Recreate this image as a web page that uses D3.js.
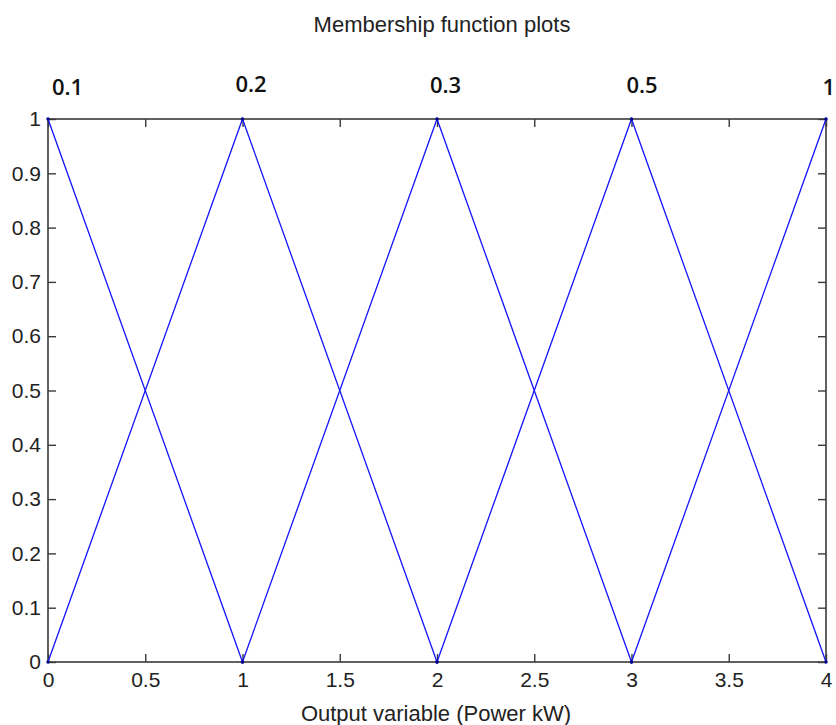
<!DOCTYPE html>
<html><head><meta charset="utf-8">
<script src="https://cdn.jsdelivr.net/npm/d3@7"></script>
<style>body{margin:0;background:#fff}svg{display:block}</style>
</head><body>
<script>
const title = "Membership function plots";
const xLabel = "Output variable (Power kW)";
const mfNames = ["0.1","0.2","0.3","0.5","1"];
const mfParams = [[-1,0,1],[0,1,2],[1,2,3],[2,3,4],[3,4,5]];
const xTicks = [0,0.5,1,1.5,2,2.5,3,3.5,4];
const yTicks = [0,0.1,0.2,0.3,0.4,0.5,0.6,0.7,0.8,0.9,1];
const xDomain = [0,4];
const yDomain = [0,1];

const W=836,H=725;
const m={l:48,t:119,r:10,b:63};
const svg=d3.select("body").append("svg").attr("width",W).attr("height",H);
const x=d3.scaleLinear().domain(xDomain).range([m.l,W-m.r]);
const y=d3.scaleLinear().domain(yDomain).range([H-m.b,m.t]);
const fmt=d=>String(d);
const font="'Liberation Sans', Arial, sans-serif";
const axisCol="#3a3a3a";

svg.append("rect").attr("x",x(0)).attr("y",y(1)).attr("width",x(4)-x(0)).attr("height",y(0)-y(1))
 .attr("fill","none").attr("stroke",axisCol).attr("stroke-width",1.6);

function styleAxis(g){
  g.select(".domain").remove();
  g.selectAll(".tick line").attr("stroke",axisCol).attr("stroke-width",1.4);
  g.selectAll(".tick text").attr("fill","#222").style("font-family",font).style("font-size","21px");
}
const tl=8;
svg.append("g").attr("transform",`translate(0,${y(0)})`)
 .call(d3.axisBottom(x).tickValues(xTicks).tickFormat(fmt).tickSizeInner(-tl).tickSizeOuter(0).tickPadding(10))
 .call(styleAxis);
svg.append("g").attr("transform",`translate(0,${y(1)})`)
 .call(d3.axisTop(x).tickValues(xTicks).tickFormat("").tickSizeInner(-tl).tickSizeOuter(0))
 .call(styleAxis);
svg.append("g").attr("transform",`translate(${x(0)},0)`)
 .call(d3.axisLeft(y).tickValues(yTicks).tickFormat(fmt).tickSizeInner(-tl).tickSizeOuter(0).tickPadding(7))
 .call(styleAxis);
svg.append("g").attr("transform",`translate(${x(4)},0)`)
 .call(d3.axisRight(y).tickValues(yTicks).tickFormat("").tickSizeInner(-tl).tickSizeOuter(0))
 .call(styleAxis);

const clipId="clipPlot";
svg.append("clipPath").attr("id",clipId).append("rect")
 .attr("x",x(0)).attr("y",y(1)-2).attr("width",x(4)-x(0)).attr("height",y(0)-y(1)+4);
const line=d3.line().x(d=>x(d[0])).y(d=>y(d[1]));
const g=svg.append("g").attr("clip-path",`url(#${clipId})`);
mfParams.forEach(p=>{
  const pts=[[p[0],0],[p[1],1],[p[2],0]];
  g.append("path").attr("d",line(pts)).attr("fill","none").attr("stroke","#1414ff").attr("stroke-width",1.3);
});
mfParams.forEach(p=>{
  [[p[1],1],[p[0],0],[p[2],0]].forEach(d=>{
    if(d[0]>=0&&d[0]<=4) svg.append("circle").attr("cx",x(d[0])).attr("cy",y(d[1])).attr("r",1.7).attr("fill","#000090");
  });
});

const lblOff=[[4,95,"start"],[-7,92,"start"],[-7,93,"start"],[-5,93,"start"],[9,95,"end"]];
mfNames.forEach((n,i)=>{
  svg.append("text").attr("x",x(mfParams[i][1])+lblOff[i][0]).attr("y",lblOff[i][1])
   .attr("text-anchor",lblOff[i][2])
   .text(n).attr("fill","#111").style("font-family","'Open Sans', sans-serif").style("font-weight","600").style("font-size","22px");
});

svg.append("text").attr("x",442).attr("y",32).attr("text-anchor","middle").text(title)
 .attr("fill","#222").style("font-family",font).style("font-size","22px");
svg.append("text").attr("x",436).attr("y",721).attr("text-anchor","middle").text(xLabel)
 .attr("fill","#222").style("font-family",font).style("font-size","22px");
</script>
</body></html>
